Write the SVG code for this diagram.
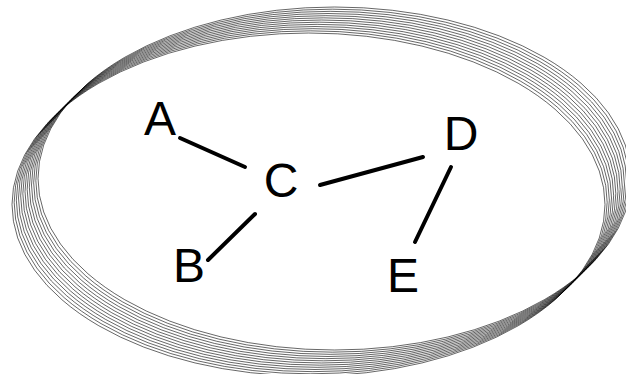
<svg xmlns="http://www.w3.org/2000/svg" xmlns:xlink="http://www.w3.org/1999/xlink" width="626" height="374" viewBox="0 0 626 374">
<style>
.ring{fill:none;stroke:#000;stroke-width:0.6}
.edge{stroke:#000;stroke-width:4;stroke-linecap:round;fill:none}
.lbl{font-family:"Liberation Sans",Arial,sans-serif;font-size:48px;fill:#000;text-anchor:middle}
</style>
<defs>
<ellipse id="ring" class="ring" cx="308.5" cy="204.5" rx="296.5" ry="171.5"/>
</defs>
<rect width="626" height="374" fill="#fff"/>
<g id="rings">
<use xlink:href="#ring" transform="translate(0,0)"/>
<use xlink:href="#ring" transform="translate(2.17,-2.17)"/>
<use xlink:href="#ring" transform="translate(4.33,-4.33)"/>
<use xlink:href="#ring" transform="translate(6.5,-6.5)"/>
<use xlink:href="#ring" transform="translate(8.67,-8.67)"/>
<use xlink:href="#ring" transform="translate(10.83,-10.83)"/>
<use xlink:href="#ring" transform="translate(13,-13)"/>
<use xlink:href="#ring" transform="translate(15.17,-15.17)"/>
<use xlink:href="#ring" transform="translate(17.33,-17.33)"/>
<use xlink:href="#ring" transform="translate(19.5,-19.5)"/>
<use xlink:href="#ring" transform="translate(21.67,-21.67)"/>
<use xlink:href="#ring" transform="translate(23.83,-23.83)"/>
<use xlink:href="#ring" transform="translate(26,-26)"/>
</g>
<g id="connectors">
<line class="edge" x1="180" y1="138" x2="245" y2="167"/>
<line class="edge" x1="320" y1="185" x2="423" y2="157"/>
<line class="edge" x1="255" y1="214" x2="208" y2="260"/>
<line class="edge" x1="451" y1="167" x2="415" y2="242"/>
</g>
<g id="node-A"><text class="lbl" x="160" y="135">A</text></g>
<g id="node-B"><text class="lbl" x="189" y="282">B</text></g>
<g id="node-C"><text class="lbl" x="281" y="197">C</text></g>
<g id="node-D"><text class="lbl" x="461" y="150">D</text></g>
<g id="node-E"><text class="lbl" x="403" y="292">E</text></g>
</svg>
